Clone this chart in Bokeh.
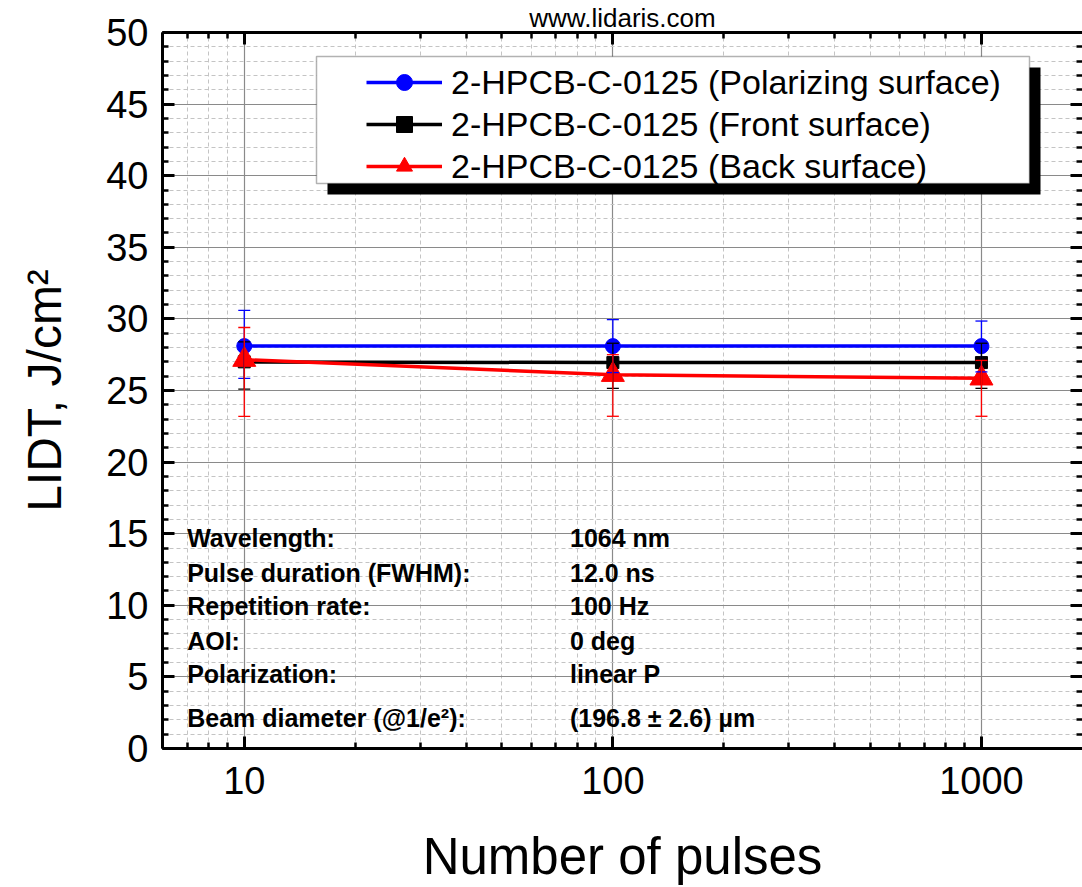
from bokeh.plotting import figure
from bokeh.models import (Range1d, LogAxis, LinearAxis, FixedTicker, BasicTickFormatter,
                          CustomJSTickFormatter, Whisker, TeeHead, ColumnDataSource,
                          Legend, LegendItem, BoxAnnotation, Label)
from bokeh.embed import file_html
from bokeh.resources import INLINE

# ---------------- data ----------------
pulses = [10, 100, 1000]

pol = [28.1, 28.1, 28.1]
pol_hi = [30.6, 29.95, 29.85]
pol_lo = [25.85, 26.25, 26.3]

front = [27.0, 26.95, 26.95]
front_hi = [28.4, 28.3, 28.3]
front_lo = [25.1, 25.15, 25.15]

back = [27.15, 26.1, 25.85]
back_hi = [29.4, 27.5, 27.1]
back_lo = [23.2, 23.2, 23.2]

series_names = ["2-HPCB-C-0125 (Polarizing surface)",
                "2-HPCB-C-0125 (Front surface)",
                "2-HPCB-C-0125 (Back surface)"]

x_major = [10, 100, 1000]
y_major = list(range(0, 51, 5))

info_keys = ["Wavelength:", "Pulse duration (FWHM):", "Repetition rate:",
             "AOI:", "Polarization:", "Beam diameter (@1/e\u00b2):"]
info_vals = ["1064 nm", "12.0 ns", "100 Hz", "0 deg", "linear P",
             "(196.8 \u00b1 2.6) \u00b5m"]

title_text = "www.lidaris.com"
x_label = "Number of pulses"
y_label = "LIDT, J/cm\u00b2"

# ---------------- layout / style ----------------
FONT = "Liberation Sans"
info_rows_y = [14.73, 12.29, 9.92, 7.54, 5.17, 2.16]
info_col_x = [7.0, 76.5]

p = figure(width=1082, height=887, x_axis_type="log",
           x_range=Range1d(6, 1880), y_range=Range1d(0, 50),
           output_backend="svg", toolbar_location=None,
           min_border_left=162, min_border_top=32,
           min_border_right=0, min_border_bottom=139)
p.outline_line_color = None
p.background_fill_color = "white"
p.border_fill_color = "white"

p.title.text = title_text
p.title.align = "center"
p.title.text_font = FONT
p.title.text_font_size = "26px"
p.title.text_font_style = "normal"
p.title.text_color = "black"
p.title.standoff = 0

x_minor = [m * 10 ** e for e in range(0, 4) for m in range(2, 10)]
xt = FixedTicker(ticks=x_major, minor_ticks=x_minor)
yt = FixedTicker(ticks=y_major, minor_ticks=list(range(0, 51)))

p.xaxis.ticker = xt
p.yaxis.ticker = yt
p.xgrid.ticker = xt
p.ygrid.ticker = yt
p.xaxis.formatter = BasicTickFormatter(use_scientific=False)


def style_axis(ax, labels=True):
    ax.axis_line_width = 3
    ax.axis_line_color = "black"
    ax.major_tick_in = 12
    ax.major_tick_out = 0
    ax.minor_tick_in = 6
    ax.minor_tick_out = 0
    ax.major_tick_line_width = 3
    ax.minor_tick_line_width = 2.5
    ax.major_tick_line_color = "black"
    ax.minor_tick_line_color = "black"
    if labels:
        ax.major_label_text_font = FONT
        ax.major_label_text_font_size = "38px"
        ax.major_label_text_color = "black"
    else:
        ax.formatter = CustomJSTickFormatter(code="return ''")
        ax.major_label_text_font_size = "1px"
        ax.major_label_standoff = 0


style_axis(p.xaxis[0])
style_axis(p.yaxis[0])
p.xaxis.major_label_standoff = 18
p.yaxis.major_label_standoff = 14
p.xaxis.axis_label = x_label
p.yaxis.axis_label = y_label
for ax in (p.xaxis[0], p.yaxis[0]):
    ax.axis_label_text_font = FONT
    ax.axis_label_text_font_style = "normal"
    ax.axis_label_text_color = "black"
p.xaxis.axis_label_text_font_size = "51px"
p.yaxis.axis_label_text_font_size = "48px"
p.xaxis.axis_label_standoff = 31
p.yaxis.axis_label_standoff = 32

top_ax = LogAxis(ticker=xt)
style_axis(top_ax, labels=False)
p.add_layout(top_ax, "above")
right_ax = LinearAxis(ticker=yt)
style_axis(right_ax, labels=False)
right_ax.axis_line_color = None
p.add_layout(right_ax, "right")

for g in (p.xgrid[0], p.ygrid[0]):
    g.grid_line_color = "#8a8a8a"
    g.grid_line_width = 1.2
    g.minor_grid_line_color = "#c4c4c4"
    g.minor_grid_line_width = 1
    g.minor_grid_line_dash = "4 3"

# ---------------- series ----------------
styles = [("#0000ff", "circle", 15), ("#000000", "square", 12), ("#ff0000", "triangle", 23)]
items = []
for name, vals, hi, lo, (color, marker, size) in zip(
        series_names, [pol, front, back], [pol_hi, front_hi, back_hi],
        [pol_lo, front_lo, back_lo], styles):
    src = ColumnDataSource(dict(x=pulses, y=vals, hi=hi, lo=lo))
    ln = p.line("x", "y", source=src, line_color=color, line_width=3.5)
    w = Whisker(source=src, base="x", upper="hi", lower="lo",
                line_color=color, line_width=1.3, level="glyph",
                upper_head=TeeHead(size=12, line_color=color, line_width=1.3),
                lower_head=TeeHead(size=12, line_color=color, line_width=1.3))
    p.add_layout(w)
    sc = p.scatter("x", "y", source=src, marker=marker, size=size,
                   fill_color=color, line_color=color)
    items.append(LegendItem(label=name, renderers=[ln, sc]))

# ---------------- legend with shadow ----------------
shadow = BoxAnnotation(left=327, right=1040, top=67, bottom=194,
                       left_units="canvas", right_units="canvas",
                       top_units="canvas", bottom_units="canvas",
                       fill_color="black", fill_alpha=1, line_color=None)
frame_box = BoxAnnotation(left=316, right=1029, top=56, bottom=183,
                          left_units="canvas", right_units="canvas",
                          top_units="canvas", bottom_units="canvas",
                          fill_color="white", fill_alpha=1,
                          line_color="black", line_width=1.5)
p.add_layout(shadow)
p.add_layout(frame_box)

legend = Legend(items=items, location=(204, 562), border_line_color=None,
                background_fill_alpha=0, padding=0, spacing=2, margin=0,
                glyph_width=76, glyph_height=40, label_height=40,
                label_standoff=9, label_text_font=FONT,
                label_text_font_size="34px", label_text_color="black")
p.add_layout(legend)

# ---------------- info text ----------------
for key, val, yy in zip(info_keys, info_vals, info_rows_y):
    for txt, xx in ((key, info_col_x[0]), (val, info_col_x[1])):
        p.add_layout(Label(x=xx, y=yy, text=txt, text_font=FONT,
                           text_font_size="25px", text_font_style="bold",
                           text_baseline="middle", text_align="left",
                           text_color="black"))

open("out.html", "w").write(file_html(p, INLINE))
